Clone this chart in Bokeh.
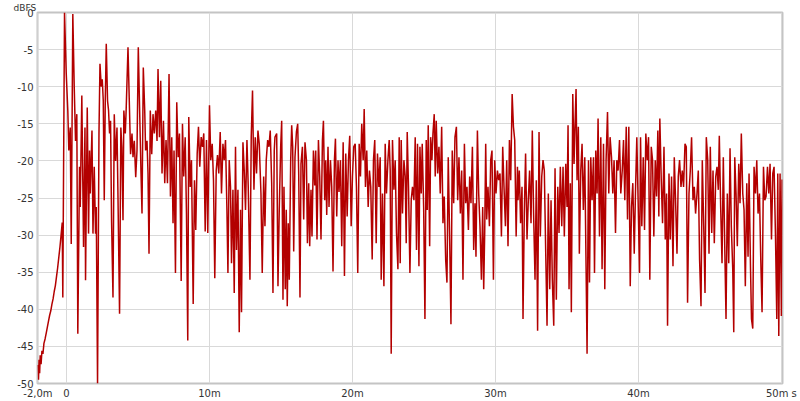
from bokeh.plotting import figure
from bokeh.models import Range1d, FixedTicker, Title
from bokeh.embed import file_html
from bokeh.resources import INLINE

# ---- data: impulse response level (dBFS) vs time (ms) ----
t_onset = [-2.0, -1.96, -1.92, -1.88, -1.84, -1.78, -1.72, -1.65, -1.58, -1.5,
           -1.42, -1.34, -1.26, -1.18, -1.1, -1.02, -0.94, -0.86, -0.78, -0.7,
           -0.62, -0.54, -0.46, -0.38, -0.30, -0.26, -0.14, -0.02, 0.09, 0.16,
           0.26, 0.33, 0.44, 0.54, 0.63, 0.72, 0.79, 0.91, 0.96, 1.07,
           1.19, 1.29, 1.33, 1.45, 1.54, 1.61, 1.66, 1.78, 1.85, 1.94,
           2.03, 2.08, 2.17, 2.27, 2.34, 2.43, 2.50, 2.57, 2.64, 2.71,
           2.78, 2.87, 2.94, 3.01, 3.08, 3.15, 3.25, 3.34, 3.43, 3.53,
           3.59, 3.71, 3.80, 3.87, 3.95, 4.01, 4.11, 4.17, 4.30, 4.39,
           4.48, 4.58, 4.65, 4.74, 4.84, 4.93, 5.02, 5.11, 5.21, 5.28,
           5.37, 5.47, 5.53, 5.63, 5.70, 5.77, 5.86, 5.96, 6.05, 6.14,
           6.24, 6.33]
db_onset = [-47.5, -49.5, -46.8, -48.6, -46.2, -47.4, -45.6, -46.0, -44.6, -44.0,
            -43.2, -42.4, -41.6, -40.8, -40.2, -39.3, -38.6, -37.6, -36.8, -35.6,
            -34.4, -33.0, -31.6, -30.0, -28.3, -38.4, 0.0, -8.2, -13.2, -18.6,
            -15.5, -31.2, -0.2, -10.1, -17.3, -13.7, -43.3, -20.8, -26.2, -11.2,
            -31.6, -15.5, -36.1, -12.8, -29.8, -18.6, -24.4, -15.9, -29.8, -20.8,
            -29.8, -26.2, -50.0, -16.3, -6.9, -10.0, -9.0, -11.9, -25.3, -11.9,
            -4.2, -11.9, -13.2, -16.3, -14.6, -28.0, -38.4, -13.7, -20.0, -15.5,
            -23.5, -40.6, -15.5, -18.2, -28.0, -13.2, -16.3, -13.2, -4.7, -11.9,
            -19.1, -16.3, -19.5, -17.3, -22.2, -18.6, -4.7, -12.8, -21.7, -27.1,
            -7.4, -13.2, -18.6, -17.3, -21.7, -32.5, -13.2, -19.1, -13.7, -16.3,
            -13.2, -17.3]

t_early = [6.40, 6.50, 6.59, 6.68, 6.78, 6.87, 6.96, 7.06, 7.17, 7.27,
           7.36, 7.45, 7.52, 7.62, 7.71, 7.81, 7.90, 8.02, 8.11, 8.20,
           8.30, 8.39, 8.48, 8.55, 8.65, 8.74, 8.86, 8.95, 9.04, 9.14,
           9.23, 9.32, 9.42, 9.51, 9.60, 9.70, 9.79, 9.88, 10.0, 10.09,
           10.19, 10.28, 10.37, 10.47, 10.56, 10.65, 10.75, 10.84, 10.94, 11.03,
           11.12, 11.22, 11.29, 11.38, 11.47, 11.54, 11.64, 11.73, 11.82, 11.89,
           11.99, 12.08, 12.17, 12.24, 12.34, 12.43, 12.52, 12.62, 12.71, 12.83,
           12.92, 13.01, 13.11, 13.20, 13.29, 13.39, 13.48, 13.60, 13.69, 13.79,
           13.88, 13.97, 14.07, 14.16, 14.25, 14.35, 14.44, 14.53]
db_early = [-7.6, -16.8, -9.2, -21.7, -14.6, -23.0, -17.2, -23.0, -8.3, -24.8,
            -16.8, -28.4, -18.6, -35.1, -12.1, -19.5, -16.3, -36.2, -15.0, -22.1,
            -16.8, -27.1, -44.2, -14.1, -23.5, -19.9, -39.3, -22.6, -29.3, -19.0,
            -15.4, -20.8, -16.8, -18.1, -16.3, -29.5, -17.2, -29.7, -12.5, -19.9,
            -17.7, -22.6, -35.8, -21.3, -19.2, -21.7, -16.1, -24.4, -17.7, -19.9,
            -17.2, -26.6, -35.1, -19.9, -23.5, -33.8, -23.9, -37.8, -18.1, -32.0,
            -23.9, -43.1, -26.6, -40.4, -17.5, -21.3, -26.6, -17.2, -23.5, -36.0,
            -16.8, -10.5, -23.9, -16.8, -21.7, -15.9, -17.7, -24.4, -35.1, -22.1,
            -28.8, -19.9, -17.2, -18.1, -15.9, -23.0, -37.8, -18.6]

t_mid1 = [14.58, 14.70, 14.79, 14.88, 14.98, 15.05, 15.14, 15.21, 15.30, 15.37,
          15.44, 15.51, 15.58, 15.68, 15.75, 15.82, 15.89, 15.98, 16.08, 16.17,
          16.24, 16.33, 16.40, 16.50, 16.59, 16.68, 16.78, 16.85, 16.94, 17.01,
          17.10, 17.17, 17.27, 17.36, 17.43, 17.52, 17.62, 17.71, 17.80, 17.90,
          17.97, 18.06, 18.13, 18.20, 18.29, 18.36, 18.46, 18.55, 18.64, 18.74,
          18.81, 18.90, 18.99, 19.06, 19.16, 19.25, 19.35, 19.44, 19.53, 19.63,
          19.72, 19.81, 19.91, 20.0, 20.09, 20.19, 20.28, 20.37, 20.47, 20.56,
          20.65, 20.75, 20.82, 20.91, 21.0, 21.1, 21.19, 21.28, 21.38, 21.47,
          21.56, 21.66, 21.75, 21.85, 21.94, 22.01, 22.1, 22.2, 22.29, 22.38,
          22.48, 22.57, 22.64, 22.71, 22.80, 22.9, 22.99, 23.08, 23.18, 23.27]
db_mid1 = [-16.8, -16.3, -36.9, -26.6, -18.1, -14.6, -38.7, -23.5, -37.3, -26.6,
           -39.6, -28.4, -36.0, -19.9, -15.2, -18.1, -32.2, -19.5, -16.1, -15.0,
           -21.7, -38.4, -20.4, -18.1, -27.9, -17.5, -19.9, -31.1, -23.0, -31.5,
           -23.9, -30.2, -18.6, -23.3, -18.6, -30.6, -17.2, -22.1, -30.6, -17.2,
           -14.6, -25.3, -19.9, -27.3, -18.1, -26.2, -19.9, -23.5, -34.9, -19.9,
           -17.0, -27.5, -19.9, -24.2, -19.9, -31.5, -17.5, -35.5, -19.0, -27.5,
           -19.9, -16.6, -28.8, -22.1, -18.1, -17.7, -23.5, -35.1, -17.7, -22.1,
           -15.0, -19.9, -13.0, -23.5, -18.6, -26.2, -21.3, -23.5, -33.3, -19.9,
           -17.2, -31.1, -19.0, -23.5, -19.5, -36.0, -24.4, -36.9, -17.7, -24.4,
           -19.9, -17.2, -21.3, -46.0, -17.2, -23.9, -19.9, -29.7, -34.6, -16.8]

t_mid2 = [23.34, 23.41, 23.50, 23.6, 23.69, 23.76, 23.83, 23.92, 24.02, 24.11,
          24.2, 24.3, 24.39, 24.48, 24.55, 24.65, 24.72, 24.81, 24.88, 24.98,
          25.07, 25.16, 25.23, 25.3, 25.4, 25.47, 25.56, 25.63, 25.72, 25.79,
          25.86, 25.96, 26.05, 26.14, 26.24, 26.33, 26.42, 26.52, 26.61, 26.7,
          26.8, 26.89, 26.98, 27.08, 27.17, 27.27, 27.36, 27.45, 27.55, 27.64,
          27.73, 27.83, 27.92, 28.01, 28.11, 28.2, 28.29, 28.39, 28.48, 28.57,
          28.64, 28.74, 28.83, 28.92, 29.02, 29.11, 29.18, 29.25, 29.32, 29.39,
          29.48, 29.58, 29.67, 29.76, 29.86, 29.95, 30.04, 30.14, 30.23, 30.32,
          30.42, 30.51, 30.6, 30.7, 30.79, 30.88, 30.98, 31.07, 31.17, 31.26,
          31.35, 31.45, 31.54]
db_mid2 = [-33.8, -17.2, -27.1, -19.9, -22.1, -31.1, -16.1, -23.5, -35.1, -25.3,
           -23.5, -25.3, -16.8, -32.0, -17.7, -34.2, -18.1, -24.4, -17.7, -26.2,
           -41.3, -17.2, -26.6, -15.2, -31.5, -16.8, -19.9, -16.3, -13.7, -22.1,
           -14.6, -21.7, -18.1, -24.4, -15.4, -28.4, -24.8, -33.3, -36.4, -19.5,
           -30.6, -42.0, -18.6, -25.7, -16.8, -15.4, -25.3, -19.5, -27.1, -21.3,
           -36.0, -17.7, -25.7, -23.5, -29.3, -22.1, -25.7, -18.1, -32.0, -25.7,
           -32.9, -15.9, -24.4, -28.8, -36.0, -26.2, -37.3, -29.7, -17.7, -27.9,
           -23.5, -28.8, -19.9, -18.6, -36.0, -19.9, -24.4, -21.3, -22.6, -21.7,
           -30.2, -18.1, -23.5, -28.8, -19.9, -31.5, -17.2, -22.6, -11.0, -15.4,
           -17.2, -30.2, -20.8]

t_late1 = [31.58, 31.67, 31.76, 31.86, 31.93, 32.02, 32.11, 32.21, 32.3, 32.39,
           32.49, 32.58, 32.67, 32.77, 32.86, 32.95, 33.05, 33.14, 33.24, 33.33,
           33.42, 33.52, 33.61, 33.7, 33.8, 33.89, 33.98, 34.08, 34.17, 34.26,
           34.36, 34.45, 34.54, 34.64, 34.73, 34.82, 34.92, 35.01, 35.08, 35.15,
           35.24, 35.31, 35.41, 35.5, 35.57, 35.64, 35.71, 35.8, 35.87, 35.97,
           36.06, 36.15, 36.25, 36.34, 36.41, 36.51, 36.58, 36.67, 36.76, 36.86,
           36.93, 37.02, 37.11, 37.18, 37.28, 37.37, 37.46, 37.56, 37.65, 37.74,
           37.84, 37.93, 38.02, 38.12, 38.21, 38.3, 38.4, 38.49, 38.58, 38.68,
           38.77, 38.87, 38.96, 39.05, 39.15, 39.24, 39.33, 39.43, 39.52, 39.61,
           39.71, 39.8, 39.89, 39.99, 40.08]
db_late1 = [-25.3, -21.3, -28.4, -23.5, -41.3, -27.1, -19.0, -30.6, -25.3, -21.3,
            -28.4, -15.9, -27.1, -36.0, -22.6, -42.9, -16.1, -30.2, -22.1, -19.9,
            -21.3, -32.5, -42.2, -24.4, -37.3, -25.3, -36.0, -42.2, -21.0, -38.7,
            -23.5, -29.7, -20.8, -28.8, -20.8, -30.2, -20.4, -26.2, -15.2, -37.3,
            -23.0, -40.4, -11.0, -20.4, -15.0, -10.3, -22.6, -15.4, -32.5, -21.3,
            -17.7, -26.6, -19.5, -34.2, -46.0, -19.9, -36.4, -19.5, -25.3, -19.5,
            -35.1, -18.6, -24.4, -14.3, -30.2, -16.8, -34.6, -17.7, -37.3, -19.9,
            -13.4, -24.4, -16.8, -19.5, -24.4, -19.9, -29.7, -19.9, -21.3, -17.2,
            -24.4, -21.3, -17.2, -25.3, -15.4, -27.9, -15.4, -36.9, -26.2, -23.0,
            -32.5, -23.9, -16.8, -26.2, -35.1]

t_late2 = [40.15, 40.24, 40.34, 40.43, 40.52, 40.62, 40.71, 40.8, 40.9, 40.99,
           41.08, 41.18, 41.27, 41.36, 41.43, 41.5, 41.6, 41.69, 41.79, 41.88,
           41.97, 42.04, 42.14, 42.23, 42.32, 42.42, 42.51, 42.6, 42.7, 42.79,
           42.88, 42.98, 43.07, 43.16, 43.26, 43.35, 43.44, 43.54, 43.63, 43.72,
           43.82, 43.91, 44.0, 44.1, 44.19, 44.28, 44.38, 44.47, 44.57, 44.66,
           44.75, 44.85, 44.94, 45.03, 45.13, 45.22, 45.31, 45.41, 45.5, 45.59,
           45.66, 45.76, 45.85, 45.94, 46.04, 46.13, 46.22, 46.32, 46.41, 46.5,
           46.6, 46.67, 46.74, 46.83, 46.92, 47.02, 47.11, 47.2, 47.3, 47.39,
           47.48, 47.58, 47.67, 47.74, 47.84, 47.91, 48.0, 48.09, 48.19, 48.28,
           48.37, 48.47, 48.56, 48.65, 48.75, 48.84, 48.93, 49.03, 49.12, 49.21,
           49.31, 49.4, 49.49, 49.59, 49.68, 49.75, 49.82, 49.91, 50.0, 50.05]
db_late2 = [-16.8, -28.8, -19.5, -29.3, -16.3, -19.9, -16.8, -36.0, -18.1, -19.9,
            -30.2, -19.9, -24.8, -15.9, -27.5, -14.3, -22.6, -28.4, -18.1, -30.6,
            -24.4, -42.2, -21.7, -30.6, -22.1, -34.2, -19.5, -25.3, -32.5, -22.1,
            -19.9, -23.5, -21.3, -23.5, -17.7, -18.1, -39.1, -24.4, -21.3, -16.8,
            -25.3, -23.5, -27.1, -24.4, -21.3, -33.3, -39.6, -19.9, -28.8, -37.8,
            -16.8, -19.9, -32.5, -18.1, -29.7, -21.3, -31.1, -22.1, -20.8, -23.9,
            -16.6, -26.6, -33.8, -19.5, -31.5, -41.3, -24.4, -33.8, -18.3, -28.8,
            -34.6, -43.1, -19.5, -24.4, -31.5, -20.4, -25.7, -16.3, -24.4, -26.6,
            -36.9, -23.0, -32.9, -21.7, -34.2, -41.3, -42.6, -20.8, -24.4, -19.9,
            -27.1, -24.4, -33.3, -40.4, -20.8, -25.3, -24.8, -20.8, -24.4, -20.4,
            -30.6, -21.7, -20.8, -30.2, -41.3, -21.7, -43.6, -21.7, -40.9, -22.5]

x_ticks = [-2, 0, 10, 20, 30, 40, 50]
x_tick_labels = ["-2,0m", "0", "10m", "20m", "30m", "40m", "50m s"]
y_ticks = [0, -5, -10, -15, -20, -25, -30, -35, -40, -45, -50]
y_unit = "dBFS"

segments = [(t_onset, db_onset), (t_early, db_early), (t_mid1, db_mid1),
            (t_mid2, db_mid2), (t_late1, db_late1), (t_late2, db_late2)]
t_all, db_all = [], []
for ts, ds in segments:
    assert len(ts) == len(ds), (len(ts), len(ds))
    t_all += ts
    db_all += ds

FONT = "DejaVu Sans"
TXT = "#333333"

p = figure(width=800, height=401, output_backend="svg", toolbar_location=None,
           x_range=Range1d(-2.03, 50.08), y_range=Range1d(-50, 0),
           min_border_left=37, min_border_right=18, min_border_top=11,
           min_border_bottom=17)
p.background_fill_color = "white"
p.border_fill_color = "white"
p.outline_line_color = "#c4c4c4"
p.outline_line_width = 2

p.line(t_all, db_all, line_color="#b30000", line_width=1.5)

p.xaxis.ticker = FixedTicker(ticks=x_ticks)
p.xaxis.major_label_overrides = {v: s for v, s in zip(x_ticks, x_tick_labels)}
p.yaxis.ticker = FixedTicker(ticks=y_ticks)
p.yaxis.major_label_overrides = {v: str(v) for v in y_ticks}

for ax in (p.xaxis[0], p.yaxis[0]):
    ax.axis_line_color = None
    ax.major_tick_line_color = None
    ax.minor_tick_line_color = None
    ax.major_tick_out = 0
    ax.major_tick_in = 0
    ax.major_label_text_font = FONT
    ax.major_label_text_font_size = "10px"
    ax.major_label_text_color = TXT
p.xaxis.major_label_standoff = 4
p.yaxis.major_label_standoff = 4

p.xgrid.ticker = FixedTicker(ticks=x_ticks)
p.ygrid.ticker = FixedTicker(ticks=y_ticks)
p.grid.grid_line_color = "#d9d9d9"
p.grid.grid_line_width = 1

p.add_layout(Title(text=y_unit, align="left", offset=-24, standoff=0,
                   text_font=FONT, text_font_size="9px", text_font_style="normal",
                   text_color=TXT), "above")

open("out.html", "w").write(file_html(p, INLINE))
